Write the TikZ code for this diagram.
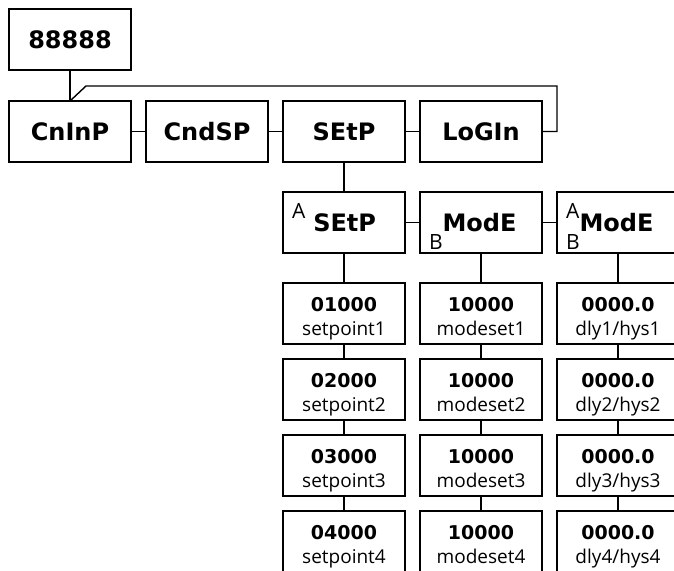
\documentclass[tikz,border=0pt]{standalone}
\usepackage{fontspec}
\setmainfont{Open Sans}
\newfontfamily\dejavu{DejaVu Sans}
\usepackage{tikz}
\usetikzlibrary{positioning}

\newcommand\menufont{\dejavu\bfseries\fontsize{24}{28}\selectfont}
\newcommand\valfont{\dejavu\bfseries\fontsize{19}{22}\selectfont}
\newcommand\subfont{\fontsize{19}{22}\selectfont}
\newcommand\tagfont{\mdseries\rmfamily\fontsize{21}{24}\selectfont}
\newcommand\tagA{\raisebox{13pt}{\tagfont A}}
\newcommand\tagB{\raisebox{-18pt}{\tagfont B}}

\tikzset{
  menu/.style={draw, line width=1.6pt, minimum width=122pt, minimum height=61pt,
    inner sep=0pt, outer sep=0pt, font=\menufont},
  submenu/.style={menu, text width=104pt, inner xsep=9pt, align=left,
    text height=17.5pt, text depth=0pt},
  cell/.style={draw, line width=1.6pt, minimum width=122pt, minimum height=61pt,
    outer sep=0pt},
  link/.style={line width=1.4pt},
  valtext/.style={anchor=base, inner sep=0pt, font=\valfont},
  subtext/.style={anchor=base, inner sep=0pt, font=\subfont}
}

\begin{document}
\begin{tikzpicture}[x=1pt, y=-1pt, node distance=15pt]
\useasboundingbox (0,0) rectangle (674,570);
\clip (0,0) rectangle (674,570);
% top level
\node[menu] (cninp) at (70,131.5) {CnInP};
\node[menu, above=31pt of cninp] (disp) {88888};
\node[menu, right=of cninp] (cndsp) {CndSP};
\node[menu, right=of cndsp] (setp) {SEtP};
\node[menu, right=of setp] (login) {LoGIn};
\draw[link] (disp) -- (cninp);
\draw[link] (cninp) -- (cndsp);
\draw[link] (cndsp) -- (setp);
\draw[link] (setp) -- (login);
\draw[link] (cninp.north) -- ++(16,-15) -| ([xshift=15pt]login.east) -- (login.east);
% setpoint menu
\node[submenu, below=30pt of setp] (setpa) {\tagA\hspace{8pt}SEtP};
\node[submenu, right=of setpa] (modeb) {\tagB ModE};
\node[submenu, right=of modeb] (modeab) {\rlap{\tagA}\tagB ModE};
\draw[link] (setp) -- (setpa);
\draw[link] (setpa) -- (modeb);
\draw[link] (modeb) -- (modeab);
% value cells
\foreach \col/\head in {sp/setpa, ms/modeb, dh/modeab}{
  \node[cell, below=30pt of \head] (\col1) {};
  \draw[link] (\head) -- (\col1);
  \foreach \r [count=\p from 1] in {2,3,4}{
    \node[cell, below=of \col\p] (\col\r) {};
    \draw[link] (\col\p) -- (\col\r);
  }
}
\foreach \r in {1,...,4}{
  \node[valtext] at ([yshift=-28pt]sp\r.north) {0\r000};
  \node[subtext] at ([yshift=-52pt]sp\r.north) {setpoint\r};
  \node[valtext] at ([yshift=-28pt]ms\r.north) {10000};
  \node[subtext] at ([yshift=-52pt]ms\r.north) {modeset\r};
  \node[valtext] at ([yshift=-28pt]dh\r.north) {0000.0};
  \node[subtext] at ([yshift=-52pt]dh\r.north) {dly\r/hys\r};
}
\end{tikzpicture}
\end{document}
